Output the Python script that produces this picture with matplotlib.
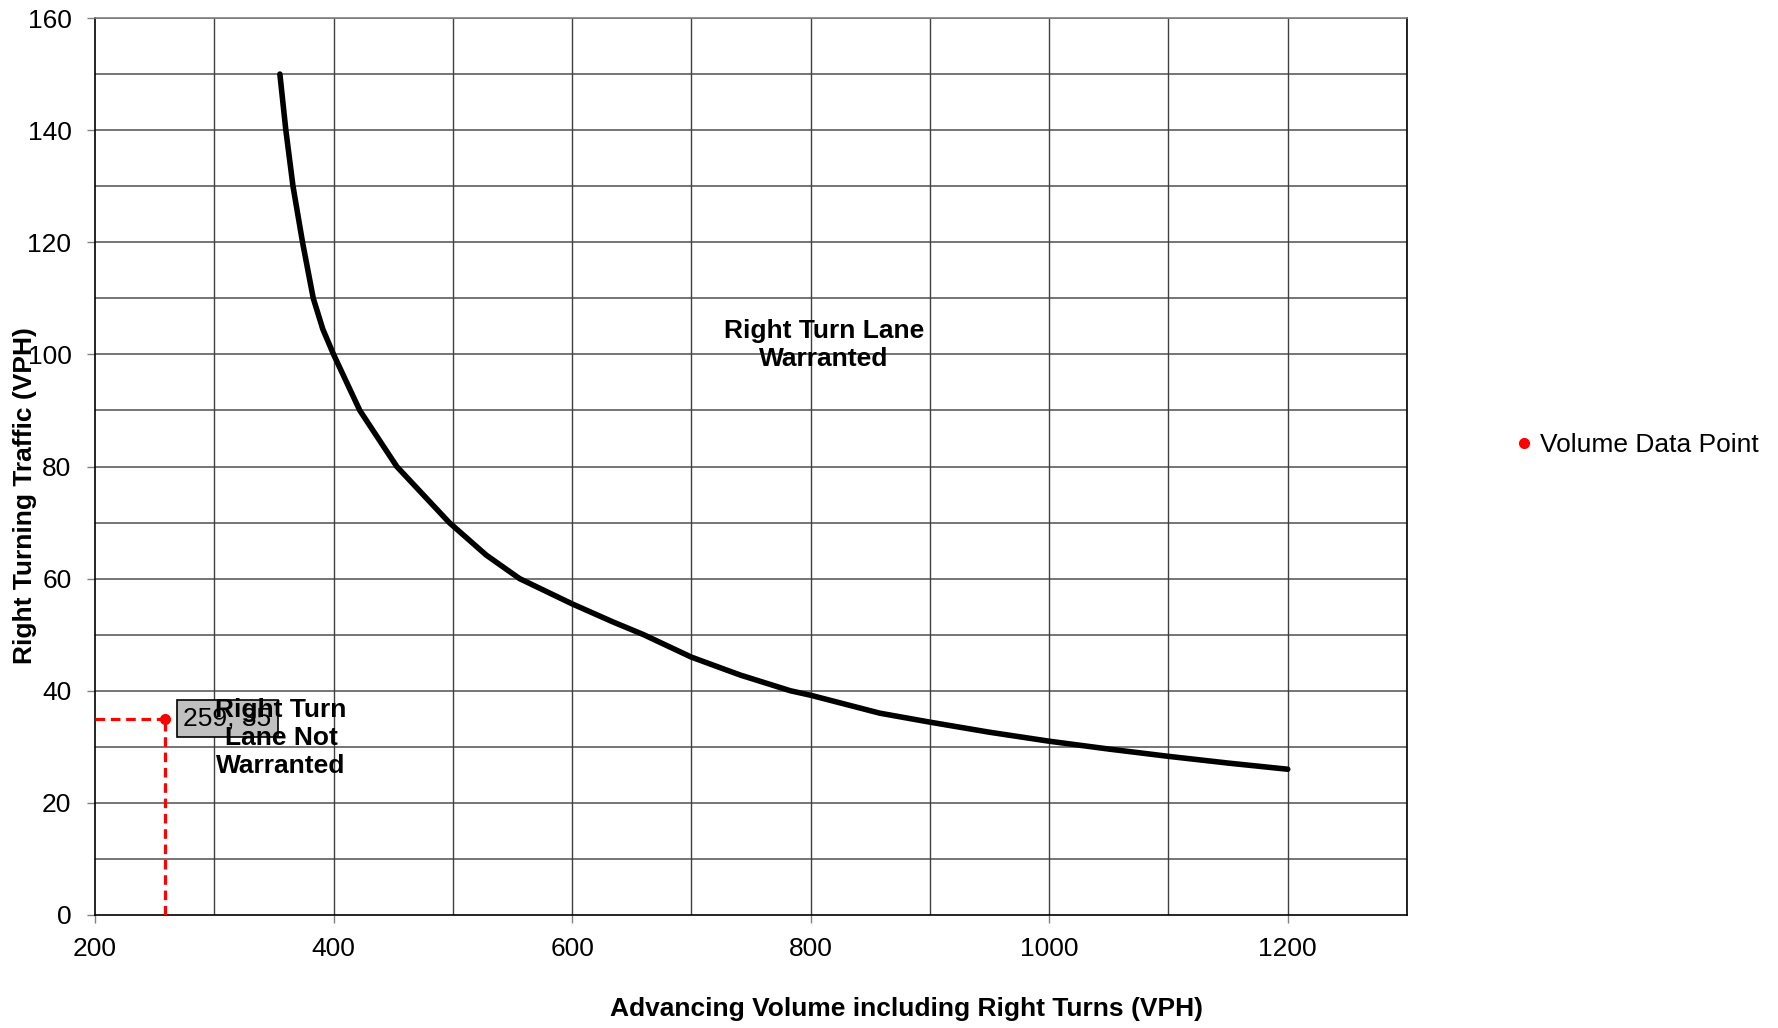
import matplotlib
matplotlib.use("Agg")
import matplotlib.pyplot as plt
from matplotlib.lines import Line2D

plt.rcParams['font.family'] = ['Liberation Sans', 'DejaVu Sans']

# warrant curve
curve_x = [355, 360, 366, 374, 383, 391, 400, 422, 453, 497, 528, 556, 600, 634, 660, 700,
           741, 783, 800, 858, 900, 950, 1000, 1050, 1100, 1150, 1200]
curve_y = [150, 140, 130, 120, 110, 104.5, 100, 90, 80, 70, 64.2, 60, 55.5, 52.3, 50, 46,
           42.8, 40, 39.2, 36, 34.4, 32.6, 31, 29.6, 28.3, 27.1, 26]

# volume data point
point_x = 259
point_y = 35

x_min, x_max = 200, 1300
y_min, y_max = 0, 160

fig = plt.figure(figsize=(17.78, 10.28), dpi=100)
ax = fig.add_axes([95 / 1778, 1 - 915 / 1028, (1407 - 95) / 1778, (915 - 18) / 1028])

ax.set_xlim(x_min, x_max)
ax.set_ylim(y_min, y_max)

# grid
for gy in range(10, 161, 10):
    ax.axhline(gy, color='#505050', lw=1.1, zorder=1)
for gx in range(300, 1301, 100):
    ax.axvline(gx, color='#404040', lw=1.0, zorder=1)

ax.plot(curve_x, curve_y, color='black', lw=4, solid_capstyle='round',
        solid_joinstyle='round', zorder=3)

# dashed guides to axes
ax.plot([x_min, point_x], [point_y, point_y], color='#ff0000', lw=2.3, ls=(0, (3, 1.8)), zorder=4)
ax.plot([point_x, point_x], [y_min, point_y], color='#ff0000', lw=2.3, ls=(0, (3, 1.8)), zorder=4)
ax.plot([point_x], [point_y], 'o', color='#ff0000', ms=7, zorder=5)

ax.text(274, 35, "259, 35", fontsize=19, va='center', ha='left', zorder=6,
        bbox=dict(boxstyle='square,pad=0.25', fc='#c0c0c0', ec='black', lw=1.2))

ax.text(811, 101.7, "Right Turn Lane\nWarranted", fontsize=19, fontweight='bold',
        ha='center', va='center', zorder=7)
ax.text(356, 31.6, "Right Turn\nLane Not\nWarranted", fontsize=19, fontweight='bold',
        ha='center', va='center', zorder=7)

ax.set_xticks(range(200, 1201, 200))
ax.set_yticks(range(0, 161, 20))
ax.tick_params(axis='both', labelsize=19, length=6, width=1, color='#808080')
ax.tick_params(axis='x', pad=10)
ax.tick_params(axis='y', pad=11)

for side in ['left', 'bottom', 'right']:
    ax.spines[side].set_color('black')
    ax.spines[side].set_linewidth(1.2)
ax.spines['top'].set_color('#808080')
ax.spines['top'].set_linewidth(1.2)

fig.text(25 / 1778, 1 - 496 / 1028, "Right Turning Traffic (VPH)", rotation=90,
         fontsize=19, fontweight='bold', ha='center', va='center')
fig.text(906 / 1778, 1 - 1009 / 1028, "Advancing Volume including Right Turns (VPH)",
         fontsize=19, fontweight='bold', ha='center', va='center')

handle = Line2D([], [], marker='o', color='#ff0000', ls='none', ms=7)
fig.legend([handle], ["Volume Data Point"], loc='center left',
           bbox_to_anchor=(1487 / 1778, 1 - 445 / 1028), frameon=False,
           fontsize=19, handletextpad=0.1, handlelength=1.0)

fig.savefig("out.png", dpi=100)
